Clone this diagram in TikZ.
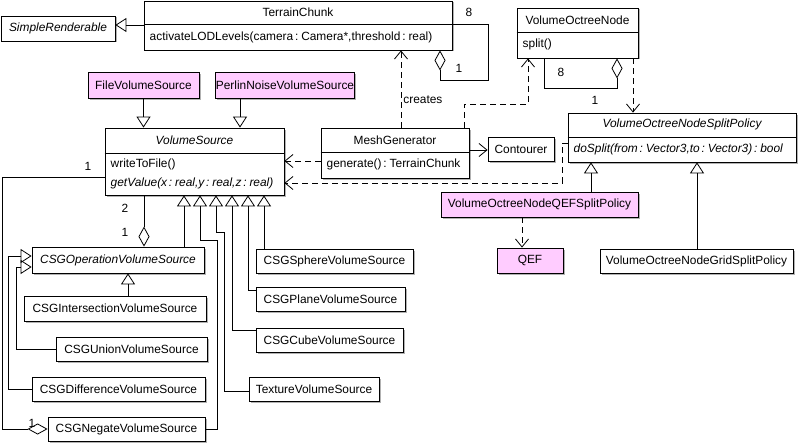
\documentclass[tikz,border=0pt]{standalone}
\usepackage{fontspec}
\setmainfont{Liberation Sans}[WordSpace=0.55]
\usetikzlibrary{arrows.meta,shadows}
\definecolor{umlpink}{RGB}{255,204,255}

\begin{document}
\begin{tikzpicture}[x=1pt,y=-1pt,line width=0.8pt,
  font=\fontsize{11.9}{14}\selectfont,
  cls/.style={draw,fill=white,inner sep=0pt,
    drop shadow={shadow xshift=1.5pt,shadow yshift=-1.5pt,fill=black!30,opacity=1}},
  hot/.style={cls,fill=umlpink},
  gen/.style={-{Triangle[open,length=11pt,width=14pt]}},
  dep/.style={dash pattern=on 6pt off 4pt,-{Straight Barb[length=8pt,width=13pt]}},
  nav/.style={-{Straight Barb[length=8pt,width=13pt]}},
  agg/.style={{Diamond[open,length=20pt,width=11pt]}-},
  mult/.style={inner sep=1pt}]
  \useasboundingbox (0,0) rectangle (800,444);

  % top row: renderable chunk and octree
  \node[cls,minimum width=114pt,minimum height=25pt] (sr) at (58,28.5) {\itshape SimpleRenderable};
  \node[cls,minimum width=308pt,minimum height=49pt] (tc) at (298,25.5) {};
  \draw (tc.west |- 0,24) -- (tc.east |- 0,24);
  \node (tcname) at (298,12.5) {TerrainChunk};
  \node[anchor=west] (tcop) at (146,37) {activateLODLevels(camera : Camera*,threshold : real)};
  \node[cls,minimum width=121pt,minimum height=50pt] (von) at (577.5,33) {};
  \draw (von.west |- 0,32) -- (von.east |- 0,32);
  \node (vonname) at (577.5,20) {VolumeOctreeNode};
  \node[anchor=west] (vonop) at (519,44.5) {split()};

  % volume sources
  \node[hot,minimum width=111pt,minimum height=26pt] (fvs) at (143.5,85) {FileVolumeSource};
  \node[hot,minimum width=136pt,minimum height=26pt] (pvs) at (285,85) {PerlinNoiseVolumeSource};
  \node[cls,minimum width=179pt,minimum height=67pt] (vs) at (194.5,161.5) {};
  \draw (vs.west |- 0,153) -- (vs.east |- 0,153);
  \node (vsname) at (194.5,140) {\itshape VolumeSource};
  \node[anchor=west] (vsop1) at (107,164) {writeToFile()};
  \node[anchor=west] (vsop2) at (107,183) {\itshape getValue(x : real,y : real,z : real)};

  \node[cls,minimum width=172pt,minimum height=26pt] (cso) at (118,260) {\itshape CSGOperationVolumeSource};
  \node[cls,minimum width=182pt,minimum height=25pt] (cin) at (115,308.5) {CSGIntersectionVolumeSource};
  \node[cls,minimum width=151pt,minimum height=24pt] (cun) at (131.5,349) {CSGUnionVolumeSource};
  \node[cls,minimum width=173pt,minimum height=24pt] (cdf) at (118.5,389) {CSGDifferenceVolumeSource};
  \node[cls,minimum width=157pt,minimum height=24pt] (cng) at (126.5,429) {CSGNegateVolumeSource};
  \node[cls,minimum width=157pt,minimum height=24pt] (sph) at (334.5,261) {CSGSphereVolumeSource};
  \node[cls,minimum width=149pt,minimum height=24pt] (pln) at (330.5,299) {CSGPlaneVolumeSource};
  \node[cls,minimum width=147pt,minimum height=24pt] (cub) at (329.5,340) {CSGCubeVolumeSource};
  \node[cls,minimum width=130pt,minimum height=24pt] (tex) at (314,389) {TextureVolumeSource};

  % mesh generation
  \node[cls,minimum width=148pt,minimum height=50pt] (mg) at (395,153) {};
  \draw (mg.west |- 0,152) -- (mg.east |- 0,152);
  \node (mgname) at (395,140) {MeshGenerator};
  \node[anchor=west] (mgop) at (323,164.5) {generate() : TerrainChunk};
  \node[cls,minimum width=66pt,minimum height=24pt] (con) at (521,149) {Contourer};

  % split policies
  \node[cls,minimum width=228pt,minimum height=49pt] (sp) at (682,137.5) {};
  \draw (sp.west |- 0,137) -- (sp.east |- 0,137);
  \node (spname) at (682,124.5) {\itshape VolumeOctreeNodeSplitPolicy};
  \node[anchor=west] (spop) at (570,149.5) {\itshape doSplit(from : Vector3,to : Vector3) : bool};
  \node[hot,minimum width=197pt,minimum height=25pt] (qsp) at (539.5,204.5) {VolumeOctreeNodeQEFSplitPolicy};
  \node[cls,minimum width=193pt,minimum height=24pt] (gsp) at (696.5,261) {VolumeOctreeNodeGridSplitPolicy};
  \node[hot,minimum width=66pt,minimum height=25pt] (qef) at (530,260.5) {QEF};

  % generalizations
  \draw[gen] (tc.west |- 0,25) -- (sr.east |- 0,25);
  \draw[gen] (fvs.south) -- (vs.north -| fvs.south);
  \draw[gen] (pvs.south -| 240,0) -- (vs.north -| 240,0);
  \draw[gen] (cso.north -| 184,0) -- (vs.south -| 184,0);
  \draw[gen] (cng.east) -| (217,240) -| (vs.south -| 200,0);
  \draw[gen] (tex.west |- 0,391) -| (224,232) -| (vs.south -| 216,0);
  \draw[gen] (cub.west |- 0,330) -| (vs.south -| 232,0);
  \draw[gen] (pln.west |- 0,290) -| (vs.south -| 248,0);
  \draw[gen] (sph.north -| 264,0) -- (vs.south -| 264,0);
  \draw[gen] (cin.north -| 128,0) -- (cso.south -| 128,0);
  \draw[gen] (cun.west) -| (16,267) -- (cso.west |- 0,267);
  \draw[gen] (cdf.west) -| (8,256) -- (cso.west |- 0,256);
  \draw[gen] (qsp.north -| 591,0) -- (sp.south -| 591,0);
  \draw[gen] (gsp.north -| 697,0) -- (sp.south -| 697,0);

  % aggregations
  \draw[agg] (tc.south -| 440,0) -- (440,80) -| (488,24) -- (tc.east |- 0,24);
  \draw[agg] (cso.north -| 144,0) -- (vs.south -| 144,0);
  \draw[agg] (cng.west) -| (2,177) -- (vs.west |- 0,177);
  \draw[agg] (von.south -| 617,0) -- (617,88) -| (von.south -| 544,0);
  \node[mult] (m1) at (469,12) {8};
  \node[mult] (m2) at (459,68) {1};
  \node[mult] (m3) at (125,208) {2};
  \node[mult] (m4) at (125,232) {1};
  \node[mult] (m5) at (88,166) {1};
  \node[mult] (m6) at (32,423) {1};
  \node[mult] (m7) at (561,72) {8};
  \node[mult] (m8) at (595,100) {1};

  % dependencies
  \draw[dep] (mg.west |- 0,161) -- (vs.east |- 0,161);
  \draw[dep] (sp.west |- 0,143) -- (562,143) |- (vs.east |- 0,183);
  \draw[nav] (mg.east |- 0,150) -- (con.west |- 0,150);
  \draw[dep] (mg.north -| 401,0) -- (tc.south -| 401,0);
  \node[anchor=west,inner sep=1pt] (crlbl) at (402,100) {creates};
  \draw[dep] (mg.north -| 464,0) |- (528,104) -- (von.south -| 528,0);
  \draw[dep] (von.south -| 633,0) -- (sp.north -| 633,0);
  \draw[dep] (qsp.south -| 522,0) -- (qef.north -| 522,0);
\end{tikzpicture}
\end{document}
